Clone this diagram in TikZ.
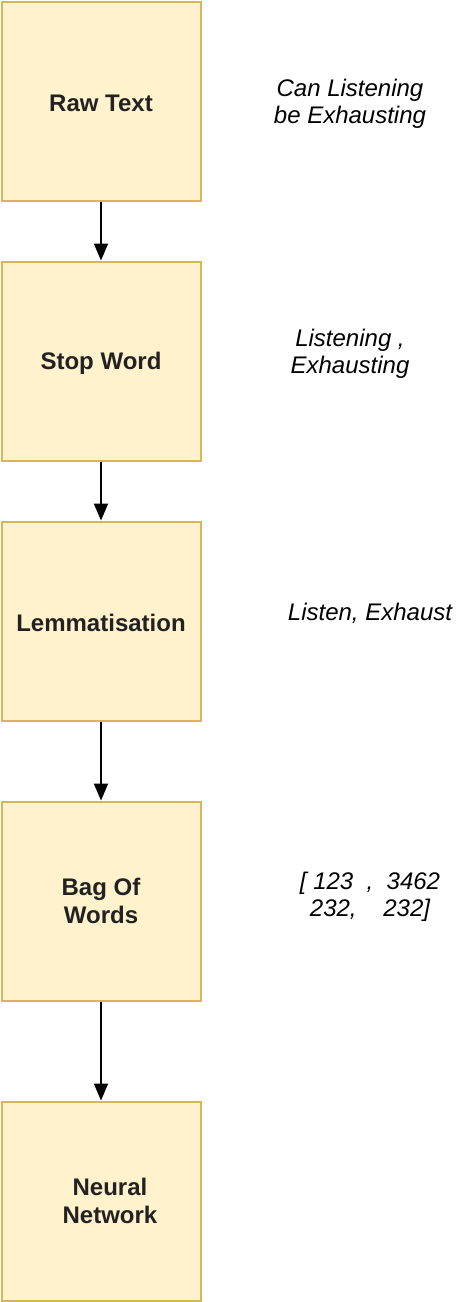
\documentclass[tikz,border=0pt]{standalone}
\usepackage{fontspec}
\setmainfont{Liberation Sans}
\usetikzlibrary{arrows.meta}
\definecolor{boxfill}{HTML}{FFF2CC}
\definecolor{boxline}{HTML}{D6B656}
\definecolor{boxtext}{HTML}{222222}
\begin{document}
\begin{tikzpicture}[x=1pt,y=-1pt,
    stage/.style={rectangle,draw=boxline,fill=boxfill,line width=2pt,
      minimum width=199pt,minimum height=199pt,inner sep=0pt,align=center,
      text=boxtext,font=\fontsize{24}{28}\selectfont\bfseries},
    oneline/.style={stage,text height=22pt},
    note/.style={align=center,inner sep=0pt,font=\fontsize{24}{27}\selectfont\itshape},
    flow/.style={line width=2pt,-{Triangle[length=17pt,width=14pt]}}]
\useasboundingbox (0,0) rectangle (462,1302);
\node[oneline] (raw) at (101,101) {Raw Text};
\node[oneline] (stop) at (101,361) {Stop Word};
\node[oneline] (lemma) at (101,621) {Lemmatisation};
\node[stage] (bag) at (101,901) {Bag Of\\Words};
\node[stage] (net) at (101,1201) {\hspace*{18pt}Neural\\\hspace*{18pt}Network};
\node[note] (rawex) at (350,104) {Can Listening\\be Exhausting};
\node[note] (stopex) at (350,354) {Listening ,\\Exhausting};
\node[note] (lemmaex) at (370,613) {Listen, Exhaust};
\node[note] (bagex) at (370,897) {[ 123\ \ ,\ \ 3462\\232,\ \ \ \ 232]};
\draw[flow] (raw) -- (stop);
\draw[flow] (stop) -- (lemma);
\draw[flow] (lemma) -- (bag);
\draw[flow] (bag) -- (net);
\end{tikzpicture}
\end{document}
